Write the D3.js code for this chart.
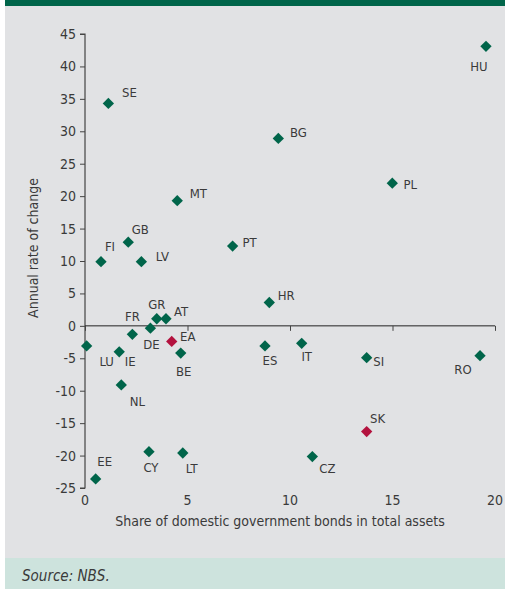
<!DOCTYPE html>
<html><head><meta charset="utf-8">
<script src="https://cdn.jsdelivr.net/npm/d3@7"></script>
<style>
body{margin:0;background:#fff;}
svg text{font-family:"Liberation Sans Narrow","DejaVu Sans Condensed",sans-serif;fill:#3a3a3a;}
</style></head><body>
<script>
const countries = ["HU","SE","BG","PL","MT","PT","GB","FI","LV","HR","GR","AT","FR","DE","EA","BE","LU","IE","NL","CY","LT","EE","ES","IT","SI","RO","SK","CZ"];
const shareBonds = [19.56,1.14,9.43,14.99,4.5,7.2,2.11,0.78,2.75,8.99,3.5,3.95,2.31,3.19,4.23,4.67,0.08,1.67,1.77,3.12,4.77,0.52,8.78,10.57,13.74,19.27,13.74,11.09];
const annualChange = [43.1,34.3,28.9,22.0,19.3,12.3,12.9,9.9,9.9,3.6,1.1,1.1,-1.3,-0.35,-2.4,-4.2,-3.1,-4.0,-9.1,-19.4,-19.6,-23.6,-3.1,-2.7,-4.9,-4.6,-16.3,-20.15];
const highlighted = ["EA","SK"];
const xTicks = [0,5,10,15,20];
const yTicks = [-25,-20,-15,-10,-5,0,5,10,15,20,25,30,35,40,45];
const xTitle = "Share of domestic government bonds in total assets";
const yTitle = "Annual rate of change";
const source = "Source: NBS.";

// label placement (presentation only)
const labelOffset = {HU:[-7,20],SE:[21,-11],BG:[20,-6],PL:[18,1],MT:[21,-7],PT:[17,-4],GB:[12,-13],FI:[9,-15],LV:[21,-5],HR:[17,-7],GR:[0,-14],AT:[15,-7],FR:[0,-18],DE:[1,16],EA:[16,-5],BE:[3,18],LU:[20,16],IE:[11,10],NL:[16,17],CY:[2,16],LT:[9,16],EE:[9,-17],ES:[5,15],IT:[5,13],SI:[12,4],RO:[-17,14],SK:[11,-13],CZ:[15,12]};

const W=505,H=589;
const svg=d3.select("body").append("svg").attr("width",W).attr("height",H);
svg.append("rect").attr("x",5).attr("y",0).attr("width",500).attr("height",6).attr("fill","#00654a");
svg.append("rect").attr("x",5).attr("y",6).attr("width",500).attr("height",552).attr("fill","#e1e2e4");
svg.append("rect").attr("x",5).attr("y",558).attr("width",500).attr("height",31).attr("fill","#cde3dd");

const x=d3.scaleLinear().domain([0,20]).range([85,495]);
const y=d3.scaleLinear().domain([-25,45]).range([488,34]);

// y axis
const yAxis=svg.append("g").attr("transform","translate(85,0)")
  .call(d3.axisLeft(y).tickValues(yTicks).tickSize(5).tickPadding(4).tickFormat(d=>d));
yAxis.select(".domain").attr("stroke","#444").attr("stroke-width",1.2).attr("d","M-5,"+y(45)+"H0V"+y(-25)+"H-5");
yAxis.selectAll(".tick line").attr("stroke","#444");
yAxis.selectAll(".tick text").attr("font-size",14).style("fill","#3a3a3a");

// x axis at zero
const xAxis=svg.append("g").attr("transform","translate(0,"+y(0)+")")
  .call(d3.axisBottom(x).tickValues(xTicks).tickSize(5).tickFormat(""));
xAxis.select(".domain").attr("stroke","#222").attr("stroke-width",1).attr("d","M"+x(0)+",0H"+x(20));
xAxis.selectAll(".tick line").attr("stroke","#444");
// x tick labels at bottom
svg.append("g").selectAll("text").data(xTicks).join("text")
  .attr("x",d=>x(d)).attr("y",505).attr("text-anchor","middle").attr("font-size",14).text(d=>d);

svg.append("text").attr("x",280).attr("y",526).attr("text-anchor","middle").attr("font-size",14).text(xTitle);
svg.append("text").attr("transform","translate(38,248) rotate(-90)").attr("text-anchor","middle").attr("font-size",14).text(yTitle);

const pts=countries.map((c,i)=>({c,x:shareBonds[i],y:annualChange[i]}));
const diamond=d3.symbol().type(d3.symbolSquare).size(64);
svg.append("g").selectAll("path").data(pts).join("path")
  .attr("d",diamond)
  .attr("transform",d=>"translate("+x(d.x)+","+y(d.y)+") rotate(45)")
  .attr("fill",d=>highlighted.includes(d.c)?"#b3123e":"#00654a");
svg.append("g").selectAll("text").data(pts).join("text")
  .attr("x",d=>x(d.x)+labelOffset[d.c][0]).attr("y",d=>y(d.y)+labelOffset[d.c][1])
  .attr("text-anchor","middle").attr("dominant-baseline","central").attr("font-size",13).text(d=>d.c);

svg.append("text").attr("x",22).attr("y",581).attr("font-size",15).attr("font-style","italic").text(source);
</script></body></html>
